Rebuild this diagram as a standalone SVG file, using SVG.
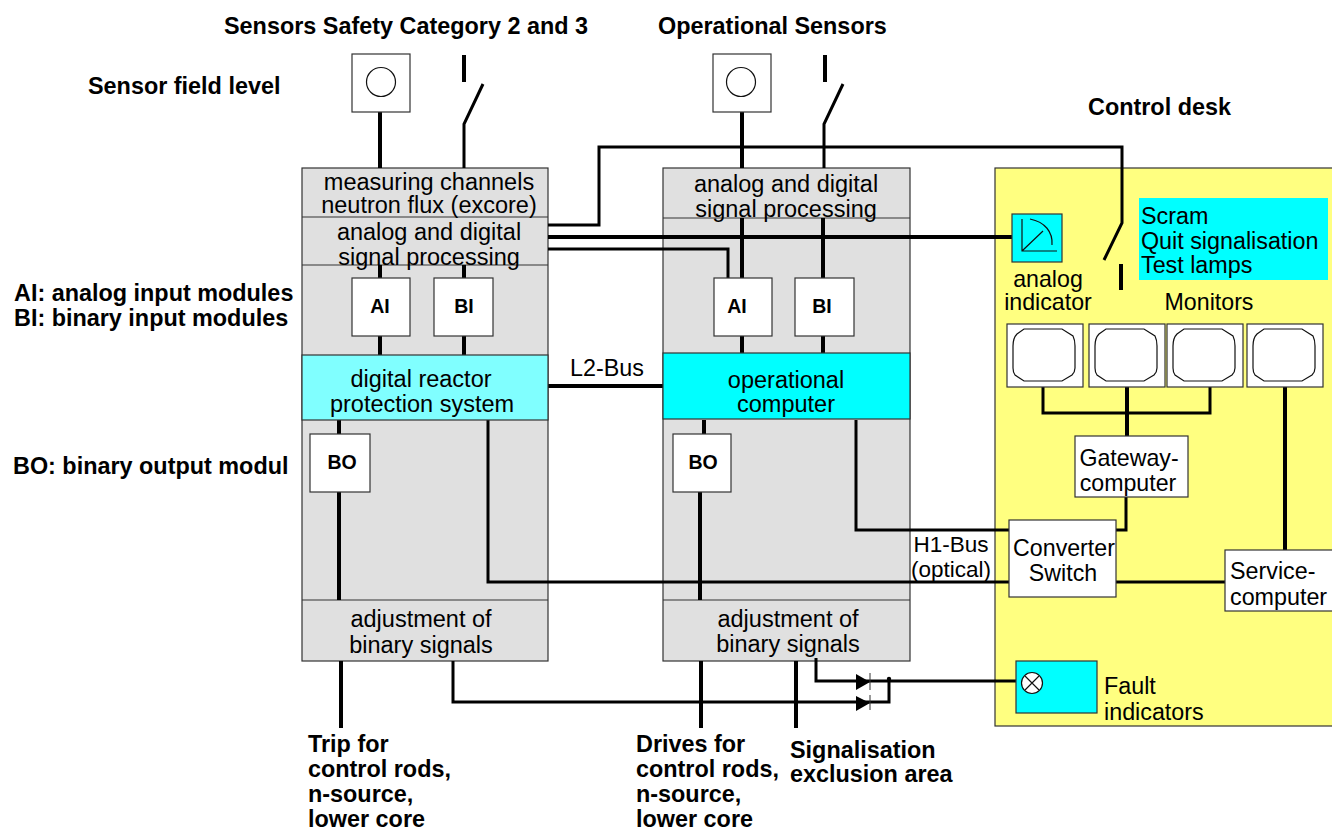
<svg xmlns="http://www.w3.org/2000/svg" width="1332" height="830" viewBox="0 0 1332 830">
<style>
text{font-family:"Liberation Sans",Arial,sans-serif;fill:#000}
.t{font-size:23.5px;text-anchor:middle}
.m{font-size:23.2px;text-anchor:middle}
.h{font-size:22.5px;text-anchor:middle}
.l{font-size:23.3px}
.b{font-size:23.4px;font-weight:bold}
.s{font-size:19.5px;font-weight:bold;text-anchor:middle}
.rack{fill:#e0e0e0;stroke:#333;stroke-width:1.2}
.w{fill:#fff;stroke:#333;stroke-width:1.2}
.c{fill:#00ffff;stroke:#333;stroke-width:1.2}
.g{fill:none;stroke:#111;stroke-width:1.2}
.k{fill:none;stroke:#000;stroke-linejoin:miter}
.k3{stroke-width:3}.k4{stroke-width:4}
</style>
<defs>
<g id="scr"><rect class="w" width="76" height="63"/><path class="g" d="M17 5H55L66 12Q68 16 68 22V44Q68 48 65 51L55 57H17L8 51Q6 48 6 44V22Q6 14 10 10Z"/></g>
</defs>
<g id="desk"><rect x="995" y="168" width="340" height="558" fill="#ffff80" stroke="#333" stroke-width="1.2"/></g>
<g id="rack-left"><rect class="rack" x="302" y="168" width="246" height="493"/><path d="M302 217H548M302 265H548M302 600H548" stroke="#333" stroke-width="1.2" fill="none"/></g>
<g id="rack-mid"><rect class="rack" x="663" y="168" width="247" height="493"/><path d="M663 218H910M663 600H910" stroke="#333" stroke-width="1.2" fill="none"/></g>
<g id="connectors">
<path class="k k4" d="M380 111V168M380 265V278M380 336V355M464 265V278M464 336V355M339 420V434M339 492V600M704 420V434M700 492V600M742 111V168M742 218V278M823 218V278M823 336V353M742 336V353"/>
<path class="k k3" d="M464 168V124L483 84M824 168V124L843 84"/>
<path class="k k4" d="M464 55V82M825 55V82M1121 290V264"/>
<path class="k k3" d="M1104 260L1122 223V147H599V225H548M548 249H728V278"/>
<path class="k k4" d="M548 237H1012M548 386H663M341 661V728M701 661V728M796 661V728"/>
<path class="k k3" d="M488 420V582H1009M1116 582H1226M856 420V530H1009M1116 530H1126V497"/>
<path class="k k3" d="M1043 387V413H1210V387"/>
<path class="k k4" d="M1127 387V436M1285 387V550"/>
<path class="k k3" d="M453 661V702H889V680M816 658V681H1024"/>
<path d="M856 674L870 682L856 690ZM856 696L870 703L856 711Z" fill="#000"/>
<path d="M870 673V690M870 695V710" stroke="#333" fill="none"/>
<circle cx="889" cy="679" r="2.2" fill="#000"/>
</g>
<g id="sensor-1"><rect class="w" x="352" y="54" width="58" height="58"/><circle class="g" cx="381" cy="82" r="14.5"/></g>
<g id="sensor-2"><rect class="w" x="713" y="54" width="58" height="58"/><circle class="g" cx="741" cy="82" r="14.5"/></g>
<g id="text-left">
<text class="t" x="429" y="190">measuring channels</text><text class="t" x="429" y="213">neutron flux (excore)</text>
<text class="t" x="429" y="240">analog and digital</text><text class="t" x="429" y="265">signal processing</text>
<text class="t" x="421" y="627">adjustment of</text><text class="t" x="421" y="653">binary signals</text></g>
<g id="text-mid">
<text class="t" x="786" y="192">analog and digital</text><text class="t" x="786" y="217">signal processing</text>
<text class="t" x="788" y="627">adjustment of</text><text class="t" x="788" y="652">binary signals</text></g>
<g id="ai-1"><rect class="w" x="352" y="278" width="58" height="58"/><text class="s" x="380" y="313">AI</text></g>
<g id="bi-1"><rect class="w" x="434" y="278" width="59" height="58"/><text class="s" x="464" y="313">BI</text></g>
<g id="ai-2"><rect class="w" x="714" y="278" width="58" height="58"/><text class="s" x="737" y="313">AI</text></g>
<g id="bi-2"><rect class="w" x="795" y="278" width="59" height="58"/><text class="s" x="822" y="313">BI</text></g>
<g id="rps"><rect x="302" y="355" width="246" height="65" fill="#80ffff" stroke="#333" stroke-width="1.2"/><text class="t" x="421" y="387">digital reactor</text><text class="t" x="422" y="412">protection system</text></g>
<g id="op"><rect class="c" x="663" y="353" width="247" height="66"/><text class="t" x="786" y="388">operational</text><text class="t" x="786" y="412">computer</text></g>
<g id="bo-1"><rect class="w" x="310" y="434" width="60" height="58"/><text class="s" x="342" y="469">BO</text></g>
<g id="bo-2"><rect class="w" x="673" y="434" width="58" height="58"/><text class="s" x="703" y="469">BO</text></g>
<g id="analog-indicator"><rect class="c" x="1012" y="214" width="50" height="48"/><path class="g" d="M1022 219V251H1057M1022 251L1043 231M1030 219C1045 222 1053 232 1052 245"/></g>
<g id="scram"><rect x="1139" y="198" width="189" height="82" fill="#00ffff"/><text class="l" x="1141" y="224">Scram</text><text class="l" x="1141" y="249">Quit signalisation</text><text class="l" x="1141" y="273">Test lamps</text></g>
<use id="mon-1" href="#scr" x="1007" y="324"/>
<use id="mon-2" href="#scr" x="1089" y="324"/>
<use id="mon-3" href="#scr" x="1167" y="324"/>
<use id="mon-4" href="#scr" x="1247" y="324"/>
<g id="gateway"><rect class="w" x="1075" y="436" width="113" height="61"/><text class="m" x="1129" y="466">Gateway-</text><text class="m" x="1128" y="491">computer</text></g>
<g id="converter"><rect class="w" x="1009" y="520" width="107" height="77"/><text class="m" x="1064" y="556">Converter</text><text class="m" x="1063" y="581">Switch</text></g>
<g id="service"><rect class="w" x="1225" y="550" width="110" height="61"/><text class="l" x="1230" y="579">Service-</text><text class="l" x="1230" y="605">computer</text></g>
<g id="fault"><rect class="c" x="1016" y="661" width="81" height="52"/><circle cx="1032" cy="683" r="10.5" fill="#fff" stroke="#111" stroke-width="1.2"/><path class="g" d="M1025 676L1039 690M1039 676L1025 690"/></g>
<g id="labels">
<text class="b" x="224" y="34">Sensors Safety Category 2 and 3</text>
<text class="b" x="658" y="34">Operational Sensors</text>
<text class="b" x="88" y="94">Sensor field level</text>
<text class="b" x="1088" y="115">Control desk</text>
<text class="b" x="14" y="301">AI: analog input modules</text>
<text class="b" x="14" y="326">BI: binary input modules</text>
<text class="b" x="13" y="474">BO: binary output modul</text>
<text class="l" x="570" y="376">L2-Bus</text>
<text class="h" x="951" y="552">H1-Bus</text>
<text class="h" x="951" y="577">(optical)</text>
<text class="m" x="1048" y="287">analog</text>
<text class="m" x="1048" y="310">indicator</text>
<text class="m" x="1209" y="310">Monitors</text>
<text class="l" x="1104" y="694">Fault</text>
<text class="l" x="1104" y="720">indicators</text>
<text class="b" x="308" y="752">Trip for</text><text class="b" x="308" y="777">control rods,</text><text class="b" x="308" y="802">n-source,</text><text class="b" x="308" y="827">lower core</text>
<text class="b" x="636" y="752">Drives for</text><text class="b" x="636" y="777">control rods,</text><text class="b" x="636" y="802">n-source,</text><text class="b" x="636" y="827">lower core</text>
<text class="b" x="790" y="758">Signalisation</text><text class="b" x="790" y="782">exclusion area</text>
</g>
</svg>
